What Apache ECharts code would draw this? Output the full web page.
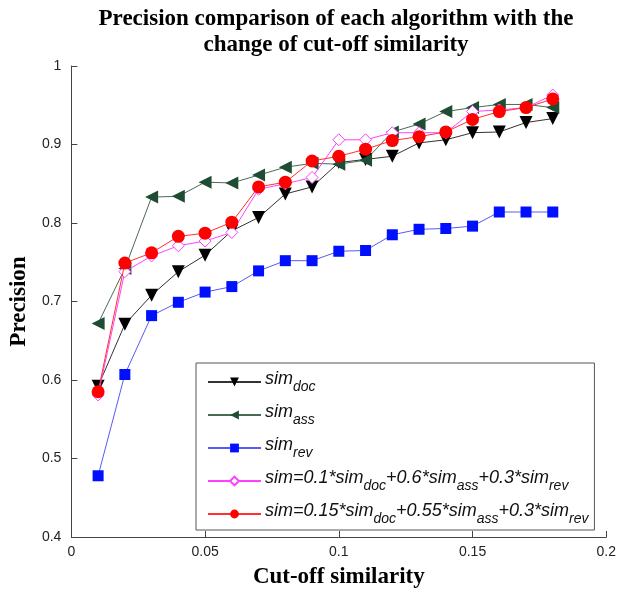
<!DOCTYPE html>
<html><head><meta charset="utf-8">
<script src="https://cdn.jsdelivr.net/npm/echarts@6/dist/echarts.min.js"></script>
<style>html,body{margin:0;padding:0;background:#fff}#c{width:619px;height:594px}</style>
</head><body><div id="c"></div>
<script>
var cutoff = [0.01,0.02,0.03,0.04,0.05,0.06,0.07,0.08,0.09,0.10,0.11,0.12,0.13,0.14,0.15,0.16,0.17,0.18];
var simDoc = [0.592,0.671,0.708,0.738,0.759,0.790,0.807,0.837,0.846,0.877,0.881,0.885,0.902,0.906,0.915,0.916,0.928,0.933];
var simAss = [0.672,0.742,0.833,0.834,0.852,0.851,0.861,0.871,0.876,0.875,0.880,0.916,0.926,0.942,0.947,0.951,0.951,0.947];
var simRev = [0.478,0.607,0.682,0.699,0.712,0.719,0.739,0.752,0.752,0.764,0.765,0.785,0.792,0.793,0.796,0.814,0.814,0.814];
var simMix1 = [0.581,0.738,0.758,0.771,0.777,0.788,0.843,0.850,0.858,0.906,0.906,0.915,0.915,0.915,0.942,0.944,0.947,0.963];
var simMix2 = [0.585,0.749,0.762,0.783,0.787,0.801,0.846,0.852,0.879,0.885,0.894,0.905,0.910,0.916,0.932,0.942,0.947,0.958];
var xTicks = [0,0.05,0.1,0.15,0.2];
var yTicks = [0.4,0.5,0.6,0.7,0.8,0.9,1];
var names = ['sim_doc','sim_ass','sim_rev','mix1','mix2'];
var legendText = {
  'sim_doc': '{n|sim}{s|doc}',
  'sim_ass': '{n|sim}{s|ass}',
  'sim_rev': '{n|sim}{s|rev}',
  'mix1': '{n|sim=0.1*sim}{s|doc}{n|+0.6*sim}{s|ass}{n|+0.3*sim}{s|rev}',
  'mix2': '{n|sim=0.15*sim}{s|doc}{n|+0.55*sim}{s|ass}{n|+0.3*sim}{s|rev}'
};
function pairs(v){ return cutoff.map(function(x,i){ return [x, v[i]]; }); }
var chart = echarts.init(document.getElementById('c'), null, {renderer:'canvas'});
var axisFont = {fontFamily:'Liberation Sans, Arial, sans-serif', fontSize:14, color:'#222'};
var serifBold = {fontFamily:'Liberation Serif, Times New Roman, serif', fontWeight:'bold', fontSize:23, color:'#000'};
chart.setOption({
  animation:false,
  backgroundColor:'#fff',
  title:{
    text:'Precision comparison of each algorithm with the\nchange of cut-off similarity',
    left:331, top:1, textAlign:'center',
    textStyle:Object.assign({lineHeight:26}, serifBold)
  },
  grid:{left:71, right:10, top:66, bottom:54, containLabel:false},
  xAxis:{
    type:'value', min:0, max:0.2, interval:0.05,
    name:'Cut-off similarity', nameLocation:'middle', nameGap:29,
    nameTextStyle:serifBold,
    axisLine:{show:true, lineStyle:{color:'#444', width:1}},
    axisTick:{show:true, inside:true, length:6, lineStyle:{color:'#444'}},
    axisLabel:Object.assign({margin:8, formatter:function(v){ return String(+v.toFixed(2)); }}, axisFont),
    splitLine:{show:false}
  },
  yAxis:{
    type:'value', min:0.4, max:1, interval:0.1,
    name:'Precision', nameLocation:'middle', nameGap:33, nameRotate:90,
    nameTextStyle:serifBold,
    axisLine:{show:true, lineStyle:{color:'#444', width:1}},
    axisTick:{show:true, inside:true, length:6, lineStyle:{color:'#444'}},
    axisLabel:Object.assign({margin:10, formatter:function(v){ return String(+v.toFixed(1)); }}, axisFont),
    splitLine:{show:false}
  },
  legend:{
    orient:'vertical', left:196, top:363,
    backgroundColor:'#fff', borderColor:'#555', borderWidth:1, borderRadius:0,
    padding:[5,6,4,11], itemGap:7, itemWidth:53, itemHeight:11,
    data:names,
    formatter:function(n){ return legendText[n]; },
    textStyle:{
      padding:[0,0,0,-1],
      rich:{
        n:{fontFamily:'Liberation Sans, Arial, sans-serif', fontStyle:'italic', fontSize:18, color:'#111', lineHeight:24, verticalAlign:'top'},
        s:{fontFamily:'Liberation Sans, Arial, sans-serif', fontStyle:'italic', fontSize:14, color:'#111', lineHeight:24, verticalAlign:'bottom', padding:[12,0,0,0]}
      }
    }
  },
  series:[
    {name:'sim_doc', type:'line', data:pairs(simDoc), symbol:'triangle', symbolRotate:180, symbolSize:13,
     lineStyle:{color:'#333', width:1}, itemStyle:{color:'#000'}, z:2},
    {name:'sim_ass', type:'line', data:pairs(simAss), symbol:'triangle', symbolRotate:90, symbolSize:13,
     lineStyle:{color:'#4a6a55', width:1}, itemStyle:{color:'#1e4d33'}, z:2},
    {name:'sim_rev', type:'line', data:pairs(simRev), symbol:'rect', symbolSize:11,
     lineStyle:{color:'#5a5af0', width:1}, itemStyle:{color:'#0010ff'}, z:2},
    {name:'mix1', type:'line', data:pairs(simMix1), symbol:'diamond', symbolSize:12,
     lineStyle:{color:'#ff40ff', width:1}, itemStyle:{color:'#fff', borderColor:'#ff40ff', borderWidth:1}, z:3},
    {name:'mix2', type:'line', data:pairs(simMix2), symbol:'circle', symbolSize:13,
     lineStyle:{color:'#ff3030', width:1}, itemStyle:{color:'#ff0000'}, z:4}
  ]
});
</script>
</body></html>
